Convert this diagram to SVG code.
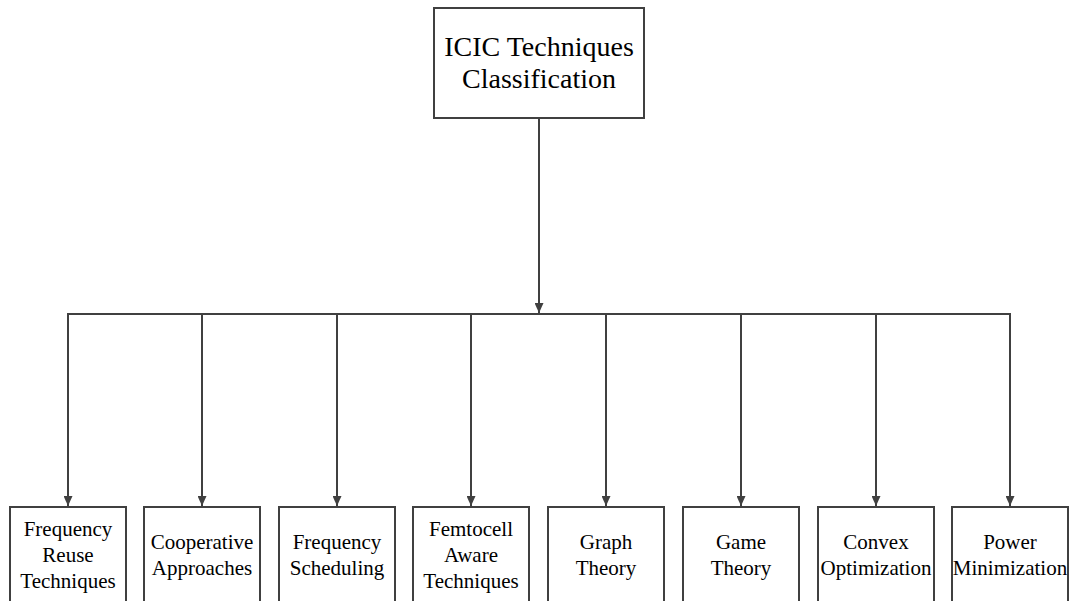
<svg xmlns="http://www.w3.org/2000/svg" width="1069" height="601" viewBox="0 0 1069 601">
<style>
.box{fill:#fff;stroke:#404040;stroke-width:2}
.t{font-family:"Liberation Serif",serif;fill:#000;text-anchor:middle}
.big{font-size:28px}
.sm{font-size:21px}
.ln{stroke:#404040;stroke-width:2;fill:none}
</style>
<defs>
<marker id="ah" markerWidth="10" markerHeight="9" refX="10" refY="4.5" orient="auto" markerUnits="userSpaceOnUse" viewBox="0 0 10 9">
<path d="M0,0 L10,4.5 L0,9 Z" fill="#404040"/>
</marker>
</defs>
<g id="connectors">
<line class="ln" x1="539" y1="118" x2="539" y2="313" marker-end="url(#ah)"/>
<line class="ln" x1="67" y1="314" x2="1011" y2="314"/>
<line class="ln" x1="68" y1="314" x2="68" y2="506" marker-end="url(#ah)"/>
<line class="ln" x1="202" y1="314" x2="202" y2="506" marker-end="url(#ah)"/>
<line class="ln" x1="337" y1="314" x2="337" y2="506" marker-end="url(#ah)"/>
<line class="ln" x1="471" y1="314" x2="471" y2="506" marker-end="url(#ah)"/>
<line class="ln" x1="606" y1="314" x2="606" y2="506" marker-end="url(#ah)"/>
<line class="ln" x1="741" y1="314" x2="741" y2="506" marker-end="url(#ah)"/>
<line class="ln" x1="876" y1="314" x2="876" y2="506" marker-end="url(#ah)"/>
<line class="ln" x1="1010" y1="314" x2="1010" y2="506" marker-end="url(#ah)"/>
</g>
<g id="root">
<rect class="box" x="434" y="8" width="210" height="110"/>
<text class="t big" x="539" y="56">ICIC Techniques</text>
<text class="t big" x="539" y="88">Classification</text>
</g>
<g id="n1">
<rect class="box" x="10" y="507" width="116" height="110"/>
<text class="t sm" x="68" y="536">Frequency</text>
<text class="t sm" x="68" y="562">Reuse</text>
<text class="t sm" x="68" y="588">Techniques</text>
</g>
<g id="n2">
<rect class="box" x="144" y="507" width="116" height="110"/>
<text class="t sm" x="202" y="549">Cooperative</text>
<text class="t sm" x="202" y="575">Approaches</text>
</g>
<g id="n3">
<rect class="box" x="279" y="507" width="116" height="110"/>
<text class="t sm" x="337" y="549">Frequency</text>
<text class="t sm" x="337" y="575">Scheduling</text>
</g>
<g id="n4">
<rect class="box" x="413" y="507" width="116" height="110"/>
<text class="t sm" x="471" y="536">Femtocell</text>
<text class="t sm" x="471" y="562">Aware</text>
<text class="t sm" x="471" y="588">Techniques</text>
</g>
<g id="n5">
<rect class="box" x="548" y="507" width="116" height="110"/>
<text class="t sm" x="606" y="549">Graph</text>
<text class="t sm" x="606" y="575">Theory</text>
</g>
<g id="n6">
<rect class="box" x="683" y="507" width="116" height="110"/>
<text class="t sm" x="741" y="549">Game</text>
<text class="t sm" x="741" y="575">Theory</text>
</g>
<g id="n7">
<rect class="box" x="818" y="507" width="116" height="110"/>
<text class="t sm" x="876" y="549">Convex</text>
<text class="t sm" x="876" y="575">Optimization</text>
</g>
<g id="n8">
<rect class="box" x="952" y="507" width="116" height="110"/>
<text class="t sm" x="1010" y="549">Power</text>
<text class="t sm" x="1010" y="575">Minimization</text>
</g>
</svg>
